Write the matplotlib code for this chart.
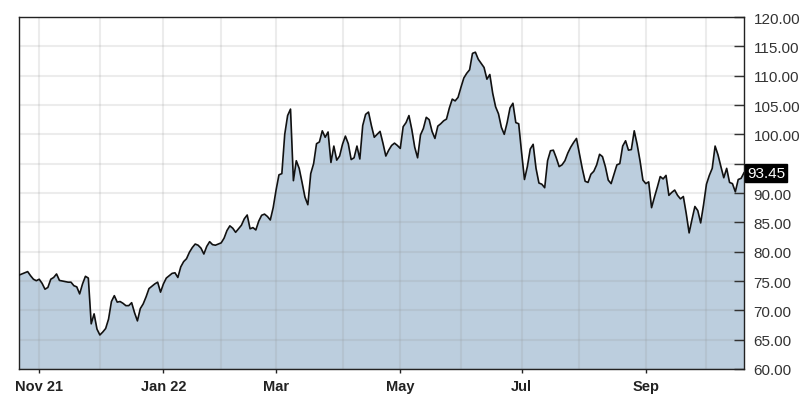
import numpy as np
import pandas as pd
import matplotlib
matplotlib.use("Agg")
import matplotlib.pyplot as plt
from pandas.tseries.offsets import CustomBusinessDay

# ---------------- data ----------------
start_date = "2021-10-21"
holidays = ["2021-11-25", "2021-12-24", "2022-01-17", "2022-02-21", "2022-04-15",
            "2022-05-30", "2022-06-20", "2022-07-04", "2022-09-05"]

prices = [
    76.0, 76.2, 76.4, 76.6, 75.9, 75.3, 75.05, 75.3, 74.6, 73.6,
    73.9, 75.3, 75.6, 76.2, 75.1, 75.0, 74.9, 74.8, 74.8, 74.2,
    74.0, 72.8, 74.5, 75.8, 75.5, 67.7, 69.4, 66.8, 65.8, 66.3,
    66.9, 68.5, 71.5, 72.5, 71.4, 71.5, 71.2, 70.8, 70.8, 71.3,
    69.6, 68.2, 70.3, 71.1, 72.3, 73.7, 74.1, 74.5, 74.8, 73.1,
    74.5, 75.5, 75.9, 76.3, 76.4, 75.6, 77.4, 78.3, 78.8, 79.9,
    80.7, 81.3, 81.1, 80.6, 79.6, 80.9, 81.7, 81.2, 81.1, 81.3,
    81.5, 82.3, 83.6, 84.4, 84.0, 83.3, 83.9, 84.5, 85.6, 86.25,
    83.9, 84.1, 83.7, 85.2, 86.2, 86.4, 86.0, 85.4, 87.5, 90.5,
    93.1, 93.3, 100.0, 103.2, 104.3, 92.1, 95.5, 94.2, 91.8, 89.3,
    88.0, 93.3, 95.0, 98.4, 98.7, 100.6, 99.5, 100.4, 95.2, 98.0,
    95.6, 96.3, 98.3, 99.7, 98.4, 95.7, 96.0, 98.0, 95.8, 101.5,
    103.4, 103.8, 101.5, 99.5, 100.0, 100.5, 98.5, 96.3, 97.3, 98.1,
    98.5, 98.1, 97.6, 101.3, 102.0, 103.2, 100.8, 97.8, 96.0, 99.9,
    101.0, 102.9, 102.5, 100.5, 99.3, 101.4, 101.8, 102.3, 102.6, 104.5,
    106.0, 105.7, 106.3, 108.0, 109.6, 110.4, 111.0, 113.8, 114.0, 112.8,
    112.1, 111.4, 109.4, 110.2, 107.0, 104.7, 103.5, 101.2, 100.0, 102.0,
    104.5, 105.3, 102.0, 101.8, 96.9, 92.3, 94.5, 97.5, 98.3, 94.2,
    91.7, 91.5, 90.9, 95.5, 97.2, 97.3, 96.0, 94.5, 94.8, 95.5,
    96.8, 97.8, 98.6, 99.3, 96.7, 94.2, 92.0, 91.8, 93.2, 93.7,
    94.8, 96.6, 96.2, 94.5, 92.2, 91.6, 93.2, 94.8, 95.0, 98.0,
    98.9, 97.3, 97.4, 100.6, 98.3, 95.5, 92.2, 91.6, 91.9, 87.5,
    89.3, 91.0, 92.8, 92.4, 93.0, 89.6, 90.1, 90.5, 89.6, 89.0,
    89.4, 86.5, 83.2, 85.5, 87.7, 87.0, 84.9, 88.0, 91.5, 93.0,
    94.2, 98.0, 96.5, 94.5, 92.6, 94.2, 91.8, 91.6, 90.2, 92.3,
    92.5, 93.45,
]
last_price = 93.45

month_labels = {"2021-11": "Nov 21", "2022-01": "Jan 22", "2022-03": "Mar",
                "2022-05": "May", "2022-07": "Jul", "2022-09": "Sep"}
y_ticks = [60, 65, 70, 75, 80, 85, 90, 95, 100, 105, 110, 115, 120]

# ---------------- calendar ----------------
cbd = CustomBusinessDay(holidays=holidays)
dates = pd.date_range(start=start_date, periods=len(prices), freq=cbd)
idx = np.arange(len(prices))
periods = dates.to_period("M")
month_start_idx = [i for i in range(1, len(dates)) if periods[i] != periods[i - 1]]

# ---------------- plot ----------------
plt.rcParams["font.family"] = ["Liberation Sans", "DejaVu Sans"]
fig = plt.figure(figsize=(8.08, 4.02), dpi=100)
ax = fig.add_axes([19 / 808, 32 / 402, 725 / 808, 352 / 402])

fill_color = (188 / 255, 206 / 255, 222 / 255)
ax.fill_between(idx, prices, 60, color=fill_color, lw=0, zorder=1)
ax.plot(idx, prices, color="#111111", lw=1.2, zorder=3)

ax.set_xlim(0, len(prices) - 1)
ax.set_ylim(60, 120)

# grid
grid_rgba = (0.55, 0.55, 0.55, 0.16)
for i in month_start_idx:
    ax.axvline(i, color=grid_rgba, lw=1.5, zorder=2)
for y in y_ticks:
    ax.axhline(y, color=grid_rgba, lw=1.5, zorder=2)

# x ticks
xt = [i for i in month_start_idx if str(periods[i]) in month_labels]
ax.set_xticks(xt)
ax.set_xticklabels([month_labels[str(periods[i])] for i in xt], fontweight="bold",
                   fontsize=10.5, color="#222222")
ax.tick_params(axis="x", direction="out", length=3, width=1, pad=4, color="#222222")

# y ticks on the right
ax.yaxis.tick_right()
ax.set_yticks(y_ticks)
ylabels = ["" if v == 95 else f"{v:.2f}" for v in y_ticks]
ax.set_yticklabels(ylabels, fontsize=11, color="#333333")
ax.tick_params(axis="y", direction="in", length=7, width=1, pad=7, color="#222222")

for s in ax.spines.values():
    s.set_color("#222222")
    s.set_linewidth(1.0)

# last price label
ax.annotate(f"{last_price:.2f}", xy=(1, last_price), xycoords=("axes fraction", "data"),
            xytext=(2, 0), textcoords="offset points", va="center", ha="left",
            fontsize=11, color="white",
            bbox=dict(boxstyle="square,pad=0.12", fc="black", ec="black"),
            annotation_clip=False, zorder=5)

fig.savefig("out.png", dpi=100)
